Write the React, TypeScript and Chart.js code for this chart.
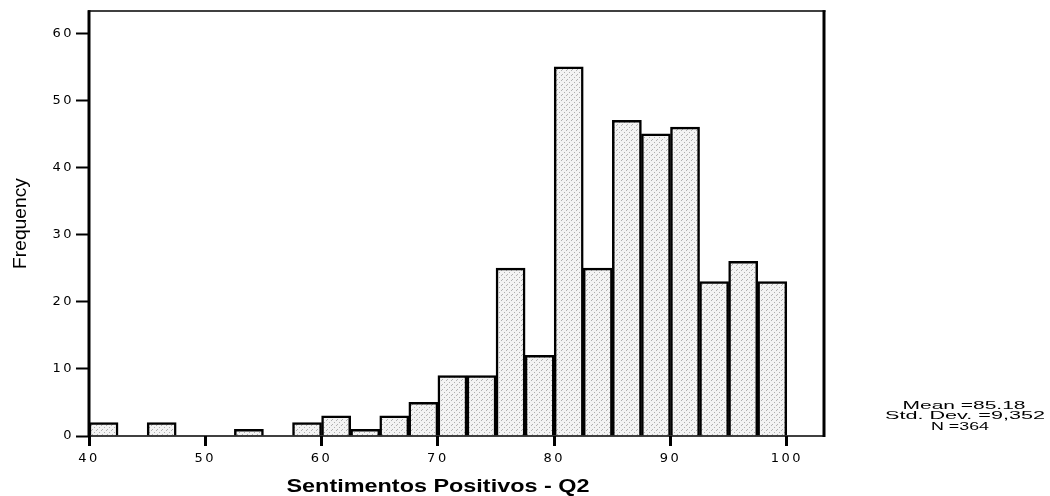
import React, { useEffect, useRef } from "react";
import { Chart, registerables } from "chart.js";

Chart.register(...registerables);

// ---- data ----
const binLowerEdges = [
  40, 42.5, 45, 47.5, 50, 52.5, 55, 57.5, 60, 62.5, 65, 67.5,
  70, 72.5, 75, 77.5, 80, 82.5, 85, 87.5, 90, 92.5, 95, 97.5,
];
const frequencies = [
  2, 0, 2, 0, 0, 1, 0, 2, 3, 1, 3, 5,
  9, 9, 25, 12, 55, 25, 47, 45, 46, 23, 26, 23,
];
const binWidth = 2.5;
const xTickValues = [40, 50, 60, 70, 80, 90, 100];
const yTickValues = [0, 10, 20, 30, 40, 50, 60];
const xAxisTitle = "Sentimentos Positivos - Q2";
const yAxisTitle = "Frequency";
const statsLines = ["Mean =85.18", "Std. Dev. =9,352", "N =364"];

function makeStipple(ctx: CanvasRenderingContext2D) {
  const c = document.createElement("canvas");
  c.width = 5;
  c.height = 5;
  const g = c.getContext("2d")!;
  g.fillStyle = "#f3f3f3";
  g.fillRect(0, 0, 5, 5);
  g.fillStyle = "#b0b0b0";
  g.fillRect(1, 0, 1, 1);
  g.fillRect(4, 2, 1, 1);
  g.fillRect(2, 4, 1, 1);
  return ctx.createPattern(c, "repeat");
}

function drawStretched(
  ctx: CanvasRenderingContext2D,
  text: string,
  font: string,
  targetWidth: number
) {
  ctx.font = font;
  const w = ctx.measureText(text).width;
  const sx = targetWidth / w;
  ctx.save();
  ctx.scale(sx, 1);
  ctx.textAlign = "center";
  ctx.textBaseline = "alphabetic";
  ctx.fillText(text, 0, 0);
  ctx.restore();
}

const framePlugin = {
  id: "spssFrame",
  beforeDraw(chart: any) {
    chart.ctx.letterSpacing = "2.5px";
  },
  afterDraw(chart: any) {
    const ctx: CanvasRenderingContext2D = chart.ctx;
    const a = chart.chartArea;
    ctx.save();
    (ctx as any).letterSpacing = "0px";
    ctx.strokeStyle = "#000";
    ctx.lineCap = "butt";
    const line = (x1: number, y1: number, x2: number, y2: number, w: number) => {
      ctx.lineWidth = w;
      ctx.beginPath();
      ctx.moveTo(x1, y1);
      ctx.lineTo(x2, y2);
      ctx.stroke();
    };
    // frame
    line(a.left - 1, a.top, a.right + 1.5, a.top, 1.5);
    line(a.left, a.bottom, a.right, a.bottom, 1.5);
    line(a.left, a.top - 0.75, a.left, a.bottom + 1, 3);
    line(a.right, a.top - 0.75, a.right, a.bottom + 1, 3);

    ctx.fillStyle = "#000";
    // y axis title
    ctx.save();
    ctx.translate(26, (a.top + a.bottom) / 2);
    ctx.rotate(-Math.PI / 2);
    drawStretched(ctx, yAxisTitle, '19px "Liberation Sans"', 91);
    ctx.restore();

    // x axis title
    ctx.save();
    ctx.translate(438, 492);
    drawStretched(ctx, xAxisTitle, 'bold 19px "Liberation Sans"', 303);
    ctx.restore();

    // stats block
    const statWidths = [123, 160, 58];
    const statCenters = [964, 965, 960];
    const statBase = [408.5, 419, 429.5];
    statsLines.forEach((t, i) => {
      ctx.save();
      ctx.translate(statCenters[i], statBase[i]);
      drawStretched(ctx, t, '10.5px "Liberation Sans"', statWidths[i]);
      ctx.restore();
    });
    ctx.restore();
  },
};

export default function App() {
  const ref = useRef<HTMLCanvasElement>(null);

  useEffect(() => {
    document.body.style.margin = "0";
    const canvas = ref.current!;
    const ctx = canvas.getContext("2d")!;
    const pattern = makeStipple(ctx);
    const points = binLowerEdges.map((lo, i) => ({
      x: lo + binWidth / 2,
      y: frequencies[i],
    }));
    const tickFont = { family: '"DejaVu Sans"', size: 13 };

    const chart = new Chart(ctx, {
      type: "bar",
      data: {
        datasets: [
          {
            data: points as any,
            backgroundColor: pattern as any,
            borderColor: "#000",
            borderWidth: 2.5,
            borderSkipped: "start",
            barPercentage: 1,
            categoryPercentage: 1,
          },
        ],
      },
      options: {
        animation: false,
        responsive: false,
        maintainAspectRatio: false,
        layout: { padding: { top: 11, right: 226, bottom: 0, left: 0 } },
        plugins: {
          legend: { display: false },
          tooltip: { enabled: false },
          title: { display: false },
        },
        scales: {
          x: {
            type: "linear",
            min: 40,
            max: 103.2,
            offset: false,
            afterBuildTicks: (s: any) => {
              s.ticks = xTickValues.map((v) => ({ value: v }));
            },
            afterFit: (s: any) => {
              s.height = 60;
            },
            ticks: {
              color: "#000",
              font: tickFont,
              padding: 5,
              maxRotation: 0,
              autoSkip: false,
              includeBounds: false,
            },
            grid: {
              offset: false,
              drawOnChartArea: false,
              drawTicks: true,
              tickLength: 10,
              tickWidth: 3,
              tickColor: "#000",
              color: "#000",
            },
            border: { display: false },
          },
          y: {
            type: "linear",
            min: 0,
            max: 63.3,
            afterBuildTicks: (s: any) => {
              s.ticks = yTickValues.map((v) => ({ value: v }));
            },
            afterFit: (s: any) => {
              s.width = 89;
            },
            ticks: {
              color: "#000",
              font: tickFont,
              padding: 2,
              includeBounds: false,
            },
            grid: {
              drawOnChartArea: false,
              drawTicks: true,
              tickLength: 13,
              tickWidth: 2,
              tickColor: "#000",
              color: "#000",
            },
            border: { display: false },
          },
        },
      },
      plugins: [framePlugin],
    });
    return () => chart.destroy();
  }, []);

  return (
    <div style={{ position: "absolute", left: 0, top: 0, width: 1050, height: 496 }}>
      <canvas ref={ref} width={1050} height={496} />
    </div>
  );
}
